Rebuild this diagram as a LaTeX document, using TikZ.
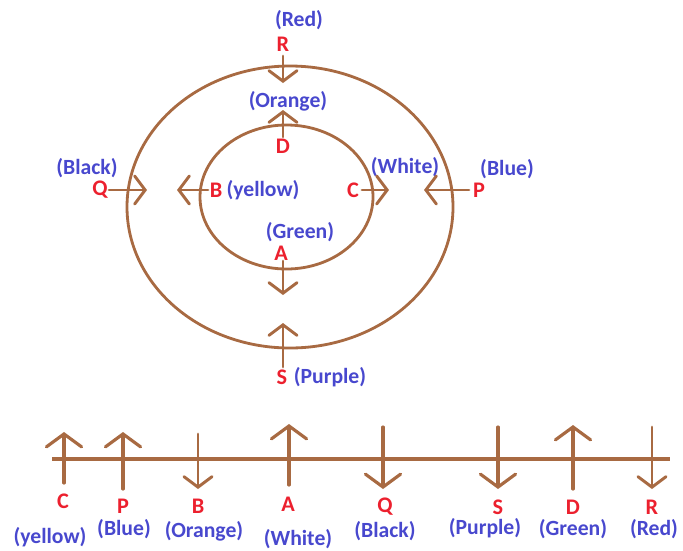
\documentclass[tikz,border=0pt]{standalone}
\usepackage{fontspec}
\setmainfont{Carlito}
\usetikzlibrary{arrows.meta}

\definecolor{wire}{RGB}{168,106,66}
\definecolor{letred}{RGB}{236,32,46}
\definecolor{colblue}{RGB}{72,72,206}

\tikzset{
  ring/.style   = {draw=wire, line width=2.4pt},
  let/.style    = {text=letred, font=\bfseries\fontsize{19}{21}\selectfont, inner sep=0pt},
  col/.style    = {text=colblue, font=\bfseries\fontsize{18.5}{21}\selectfont, inner sep=0pt},
  dirs/.style   = {draw=wire, line width=2.5pt, line cap=round,
                   -{Straight Barb[length=9pt, width=24pt, line cap=round]}},
  dirb/.style   = {draw=wire, line width=2.7pt, line cap=round,
                   -{Straight Barb[length=11pt, width=30pt, line cap=round]}}
}

\begin{document}
\begin{tikzpicture}[x=0.03cm, y=-0.03cm]
    \useasboundingbox (0,0) rectangle (683,550);

    % Circles
    \draw[ring] (290,207) ellipse [x radius=163, y radius=141];
    \draw[ring] (286.5,197) ellipse [x radius=86.5, y radius=72];

    % Vertices
    \node[col] (red1)    at (299,20)  {(Red)};
    \node[let] (R1)      at (283,44)  {R};
    \node[col] (orange1) at (288,101) {(Orange)};
    \node[let] (D1)      at (283,146) {D};
    \node[col] (black1)  at (87,168)  {(Black)};
    \node[let] (Q1)      at (100,190) {Q};
    \node[let] (B1)      at (216,190) {B};
    \node[col] (yellow1) at (263,190) {(yellow)};
    \node[let] (C1)      at (353,190) {C};
    \node[col] (white1)  at (405,167) {(White)};
    \node[let] (P1)      at (479,190) {P};
    \node[col] (blue1)   at (507,169) {(Blue)};
    \node[col] (green1)  at (300,232) {(Green)};
    \node[let] (A1)      at (281,253) {A};
    \node[let] (S1)      at (282,377) {S};
    \node[col] (purple1) at (330,377) {(Purple)};

    \coordinate (r1a) at (283,56);  \coordinate (r1b) at (283,83);
    \coordinate (d1a) at (283,137); \coordinate (d1b) at (283,110);
    \coordinate (q1a) at (109,190); \coordinate (q1b) at (147,190);
    \coordinate (b1a) at (208,190); \coordinate (b1b) at (177,190);
    \coordinate (c1a) at (362,190); \coordinate (c1b) at (389,190);
    \coordinate (p1a) at (469,190); \coordinate (p1b) at (424,190);
    \coordinate (a1a) at (283,261); \coordinate (a1b) at (283,295);
    \coordinate (s1a) at (283,367); \coordinate (s1b) at (283,323);

    % Edges
    \draw[dirs] (r1a) -- (r1b);
    \draw[dirs] (d1a) -- (d1b);
    \draw[dirs] (q1a) -- (q1b);
    \draw[dirs] (b1a) -- (b1b);
    \draw[dirs] (c1a) -- (c1b);
    \draw[dirs] (p1a) -- (p1b);
    \draw[dirs] (a1a) -- (a1b);
    \draw[dirs] (s1a) -- (s1b);

    % Line
    \coordinate (west) at (52,459);
    \coordinate (east) at (670,459);
    \draw[ring, line width=2.7pt] (west) -- (east);

    % Vertices
    \node[let] (C2)      at (63,501)  {C};
    \node[col] (yellow2) at (50,537)  {(yellow)};
    \node[let] (P2)      at (123,506) {P};
    \node[col] (blue2)   at (124,529) {(Blue)};
    \node[let] (B2)      at (198,506) {B};
    \node[col] (orange2) at (204,531) {(Orange)};
    \node[let] (A2)      at (288,504) {A};
    \node[col] (white2)  at (298,539) {(White)};
    \node[let] (Q2)      at (385,507) {Q};
    \node[col] (black2)  at (385,531) {(Black)};
    \node[let] (S2)      at (498,507) {S};
    \node[col] (purple2) at (485,528) {(Purple)};
    \node[let] (D2)      at (573,507) {D};
    \node[col] (green2)  at (573,529) {(Green)};
    \node[let] (R2)      at (652,507) {R};
    \node[col] (red2)    at (654,529) {(Red)};

    \coordinate (c2a) at (64,483);  \coordinate (c2b) at (64,432);
    \coordinate (p2a) at (123,489); \coordinate (p2b) at (123,432);
    \coordinate (b2a) at (198,434); \coordinate (b2b) at (198,489);
    \coordinate (a2a) at (289,485); \coordinate (a2b) at (289,424);
    \coordinate (q2a) at (383,427); \coordinate (q2b) at (383,489);
    \coordinate (s2a) at (498,427); \coordinate (s2b) at (498,489);
    \coordinate (d2a) at (573,489); \coordinate (d2b) at (573,425);
    \coordinate (r2a) at (652,427); \coordinate (r2b) at (652,489);

    % Edges
    \draw[dirb] (c2a) -- (c2b);
    \draw[dirb] (p2a) -- (p2b);
    \draw[dirs] (b2a) -- (b2b);
    \draw[dirb] (a2a) -- (a2b);
    \draw[dirb] (q2a) -- (q2b);
    \draw[dirb] (s2a) -- (s2b);
    \draw[dirb] (d2a) -- (d2b);
    \draw[dirs] (r2a) -- (r2b);

\end{tikzpicture}
\end{document}
